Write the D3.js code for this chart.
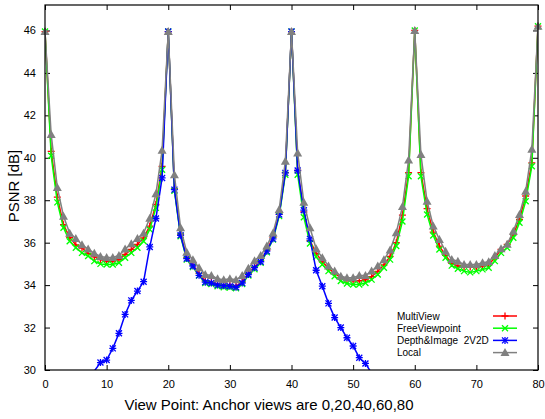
<!DOCTYPE html>
<html><head><meta charset="utf-8">
<script src="https://cdn.jsdelivr.net/npm/d3@7"></script>
<style>body{margin:0;background:#fff;}svg{display:block;font-family:"Liberation Sans",Arial,sans-serif;}</style>
</head><body>
<script>
const seriesNames = ["MultiView", "FreeViewpoint", "Depth&Image  2V2D", "Local"];
const xTicks = [0, 10, 20, 30, 40, 50, 60, 70, 80];
const yTicks = [30, 32, 34, 36, 38, 40, 42, 44, 46];
const multiView = [45.95,40.3,38.15,36.85,36.25,35.9,35.75,35.5,35.33,35.2,35.13,35.13,35.2,35.45,35.68,35.92,36.23,36.78,37.8,39.6,45.95,
 38.55,36.4,35.3,34.95,34.55,34.2,34.15,34.05,34.0,34.0,33.95,34.15,34.55,34.85,35.15,35.65,36.25,37.35,39.3,45.95,
 39.4,37.45,36.1,35.5,35.1,34.8,34.55,34.35,34.25,34.2,34.2,34.25,34.4,34.65,34.95,35.35,36.0,37.3,39.3,46.0,
 39.3,37.6,36.5,35.84,35.4,35.02,34.9,34.87,34.85,34.82,34.9,34.97,35.29,35.68,35.92,36.39,37.1,38.2,39.76,46.2];
const freeViewpoint = [45.95,40.1,37.9,36.7,36.07,35.76,35.52,35.37,35.13,35.0,34.97,34.97,35.05,35.29,35.52,35.76,36.07,36.62,37.64,39.44,45.95,
 38.45,36.3,35.2,34.85,34.45,34.1,34.05,33.95,33.9,33.88,33.85,34.05,34.45,34.75,35.05,35.55,36.15,37.25,39.2,45.95,
 39.2,37.2,35.96,35.33,34.97,34.66,34.42,34.19,34.08,34.03,34.03,34.1,34.26,34.5,34.82,35.2,35.84,37.0,39.13,46.0,
 39.13,37.33,36.34,35.68,35.29,34.92,34.77,34.66,34.6,34.66,34.74,34.82,35.13,35.52,35.76,36.23,36.94,37.95,39.6,46.2];
const depthStart = 8;
const depthImage = [29.95,30.35,30.47,31.02,31.73,32.62,33.28,33.72,34.16,35.8,37.14,39.05,45.95,
 38.5,36.35,35.25,34.9,34.46,34.14,34.1,34.0,33.97,33.95,33.9,34.1,34.5,34.82,35.1,35.6,36.18,37.33,39.29,45.95,
 39.4,37.53,36.18,34.7,33.95,33.14,32.47,32.0,31.52,31.13,30.58,30.31,29.85];
const local = [45.95,41.1,38.6,37.25,36.45,36.2,35.9,35.7,35.5,35.35,35.3,35.3,35.4,35.7,35.95,36.2,36.45,37.15,38.3,40.35,45.95,
 39.2,36.7,35.55,35.2,34.82,34.5,34.45,34.3,34.25,34.3,34.25,34.45,34.8,35.15,35.4,35.84,36.46,37.56,39.84,45.95,
 40.23,37.9,36.7,35.71,35.29,34.9,34.66,34.42,34.35,34.35,34.45,34.45,34.66,34.9,35.2,35.65,36.47,37.7,39.9,46.0,
 40.15,37.95,36.78,36.15,35.6,35.21,35.13,34.97,34.97,34.97,35.05,35.1,35.4,35.71,35.92,36.54,37.33,38.42,40.4,46.2];

const W = 545, H = 419;
const L = 45, R = 538, T = 5, B = 370;
const svg = d3.select("body").append("svg").attr("width", W).attr("height", H);
const x = d3.scaleLinear().domain([0, 80]).range([L, R]);
const y = d3.scaleLinear().domain([30, 47.2]).range([B, T]);

svg.append("defs").append("clipPath").attr("id", "clip")
  .append("rect").attr("x", L).attr("y", T).attr("width", R - L).attr("height", B - T);

const gx = svg.append("g").attr("transform", `translate(0,${B})`)
  .call(d3.axisBottom(x).tickValues(xTicks).tickSize(-5).tickPadding(10).tickFormat(d3.format("d")));
const gxt = svg.append("g").attr("transform", `translate(0,${T})`)
  .call(d3.axisTop(x).tickValues(xTicks).tickSize(-5).tickFormat(""));
const gy = svg.append("g").attr("transform", `translate(${L},0)`)
  .call(d3.axisLeft(y).tickValues(yTicks).tickSize(-5).tickPadding(9).tickFormat(d3.format("d")));
const gyr = svg.append("g").attr("transform", `translate(${R},0)`)
  .call(d3.axisRight(y).tickValues(yTicks).tickSize(-5).tickFormat(""));
[gx, gxt, gy, gyr].forEach(g => {
  g.select(".domain").remove();
  g.selectAll(".tick line").attr("stroke", "#000").attr("stroke-width", 1);
  g.selectAll(".tick text").attr("font-size", 11).attr("fill", "#000").attr("font-family", "Liberation Sans, Arial, sans-serif");
});

const series = [
  {name: seriesNames[0], color: "#ff0000", marker: "plus", data: multiView.map((v, i) => [i, v])},
  {name: seriesNames[1], color: "#00ff00", marker: "cross", data: freeViewpoint.map((v, i) => [i, v])},
  {name: seriesNames[2], color: "#0000ff", marker: "star", data: depthImage.map((v, i) => [i + depthStart, v])},
  {name: seriesNames[3], color: "#808080", marker: "tri", data: local.map((v, i) => [i, v])}
];

function drawMarker(g, type, cx, cy, color) {
  const s = 3.5;
  if (type === "plus" || type === "star") {
    g.append("path").attr("d", `M${cx - s},${cy}H${cx + s}M${cx},${cy - s}V${cy + s}`)
      .attr("stroke", color).attr("stroke-width", 1.3).attr("fill", "none");
  }
  if (type === "cross" || type === "star") {
    const c = 3;
    g.append("path").attr("d", `M${cx - c},${cy - c}L${cx + c},${cy + c}M${cx - c},${cy + c}L${cx + c},${cy - c}`)
      .attr("stroke", color).attr("stroke-width", 1.3).attr("fill", "none");
  }
  if (type === "tri") {
    const w = 4.5, h = 4;
    g.append("path").attr("d", `M${cx},${cy - h - 0.5}L${cx + w},${cy + h - 0.5}L${cx - w},${cy + h - 0.5}Z`)
      .attr("fill", color).attr("stroke", "none");
  }
}

const line = d3.line().x(d => x(d[0])).y(d => y(d[1]));
const plot = svg.append("g");
series.forEach(s => {
  plot.append("path").datum(s.data).attr("d", line).attr("fill", "none")
    .attr("stroke", s.color).attr("stroke-width", 1.5).attr("clip-path", "url(#clip)");
  const mg = plot.append("g");
  s.data.filter(d => d[1] >= 30 && d[1] <= 47.2).forEach(d => drawMarker(mg, s.marker, x(d[0]), y(d[1]), s.color));
});

svg.append("rect").attr("x", L).attr("y", T).attr("width", R - L).attr("height", B - T)
  .attr("fill", "none").attr("stroke", "#000").attr("stroke-width", 1.2);

const lg = svg.append("g");
series.forEach((s, i) => {
  const ly = 316 + i * 12.2;
  lg.append("text").attr("x", 397).attr("y", ly + 3.5).attr("font-size", 10).attr("fill", "#000")
    .style("white-space", "pre").text(s.name);
  lg.append("line").attr("x1", 493).attr("x2", 517).attr("y1", ly).attr("y2", ly)
    .attr("stroke", s.color).attr("stroke-width", 1.5);
  drawMarker(lg, s.marker, 505, ly, s.color);
});

svg.append("text").attr("x", 269).attr("y", 410).attr("text-anchor", "middle")
  .attr("font-size", 15).attr("fill", "#000").text("View Point: Anchor views are 0,20,40,60,80");
svg.append("text").attr("transform", `translate(19,186) rotate(-90)`).attr("text-anchor", "middle")
  .attr("font-size", 15).attr("fill", "#000").text("PSNR [dB]");
</script>
</body></html>
